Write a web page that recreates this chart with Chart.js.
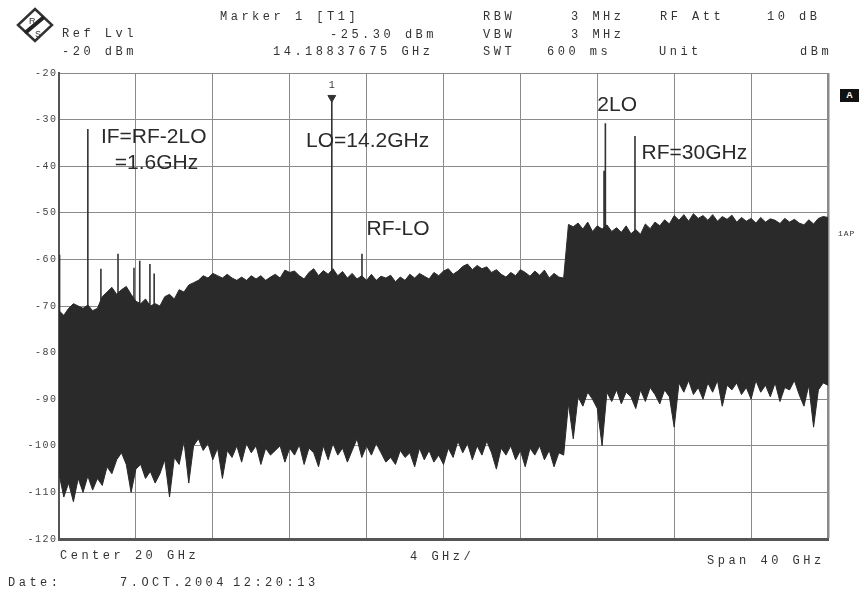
<!DOCTYPE html>
<html>
<head>
<meta charset="utf-8">
<script src="https://cdn.jsdelivr.net/npm/chart.js@4"></script>
<style>
html,body{margin:0;padding:0;background:#fff;}
#wrap{position:relative;width:859px;height:593px;overflow:hidden;font-family:"Liberation Mono","DejaVu Sans Mono",monospace;color:#333;}
#wrap canvas{position:absolute;left:0;top:0;}
.t{position:absolute;font-size:12px;line-height:12px;letter-spacing:3.5px;white-space:pre;}
#flagA{position:absolute;left:840px;top:89px;width:19px;height:13px;background:#111;color:#fff;font:bold 9px "Liberation Sans",sans-serif;text-align:center;line-height:13px;}
#logo{position:absolute;left:16px;top:7px;}
</style>
</head>
<body>
<div id="wrap">
  <canvas id="sa" width="859" height="593"></canvas>
  <svg id="logo" width="38" height="36" viewBox="0 0 38 36">
    <polygon points="19,2 36,18 19,34 2,18" fill="#fff" stroke="#333" stroke-width="2.5"/>
    <line x1="9" y1="26" x2="28" y2="10" stroke="#222" stroke-width="4"/>
    <text x="13" y="17" font-family="Liberation Sans" font-size="9" fill="#333">R</text>
    <text x="19" y="30" font-family="Liberation Sans" font-size="9" fill="#333">S</text>
  </svg>
  <div class="t" style="left:220px;top:11px">Marker 1 [T1]</div>
  <div class="t" style="left:62px;top:28px">Ref Lvl</div>
  <div class="t" style="left:330px;top:29px">-25.30 dBm</div>
  <div class="t" style="left:62px;top:46px">-20 dBm</div>
  <div class="t" style="left:273px;top:46px">14.18837675 GHz</div>
  <div class="t" style="left:483px;top:11px">RBW</div>
  <div class="t" style="left:571px;top:11px">3 MHz</div>
  <div class="t" style="left:660px;top:11px">RF Att</div>
  <div class="t" style="left:767px;top:11px">10 dB</div>
  <div class="t" style="left:483px;top:29px">VBW</div>
  <div class="t" style="left:571px;top:29px">3 MHz</div>
  <div class="t" style="left:483px;top:46px">SWT</div>
  <div class="t" style="left:547px;top:46px">600 ms</div>
  <div class="t" style="left:659px;top:46px">Unit</div>
  <div class="t" style="left:800px;top:46px">dBm</div>
  <div class="t" style="left:60px;top:550px">Center 20 GHz</div>
  <div class="t" style="left:410px;top:551px">4 GHz/</div>
  <div class="t" style="left:707px;top:555px">Span 40 GHz</div>
  <div class="t" style="left:8px;top:577px">Date:</div>
  <div class="t" style="left:120px;top:577px">7.OCT.2004</div>
  <div class="t" style="left:233px;top:577px">12:20:13</div>
  <div id="flagA">A</div>
  <div class="t" style="left:838px;top:228px;font-size:8px;letter-spacing:1px">1AP</div>
</div>
<script>
/* ---- axis ---- */
const spanGHz = [0, 40];
const yTicks = [-20, -30, -40, -50, -60, -70, -80, -90, -100, -110, -120];
const binGHz = 0.25; // sweep bin width of the noise trace

/* ---- noise trace, upper / lower envelope (dBm), one row per GHz ---- */
const noiseTop = [-71,
  -72,-70.5,-69.5,-70,   -70.5,-69.8,-71,-70.5,   -68,-67,-66,-67.5,   -66.5,-65.8,-67.5,-69,
  -69.5,-68.5,-70,-69.5, -70,-68,-67.5,-68.5,     -66.5,-67,-65.5,-65, -64.5,-63.5,-64,-63,
  -63.5,-64,-63.2,-64,   -64.5,-63.8,-64.5,-63.5, -64.2,-63.5,-64.5,-63.8, -63.2,-64,-62.3,-62.8,
  -62.5,-63.5,-64.2,-62.8, -62,-63.5,-62.4,-63.2, -62,-63.5,-62.6,-64, -63,-64.2,-63.5,-64.5,
  -63.2,-64.5,-63.6,-64, -63.4,-64.8,-63.8,-64.5, -63.2,-64,-63,-63.6, -64.2,-62.8,-63.5,-62.5,
  -62,-63.2,-62.5,-61.5, -61,-62.2,-61.3,-62,     -61.6,-62.8,-62.2,-63.2, -63.8,-62.8,-63.5,-62.2,
  -62.8,-63.6,-62.5,-63.4, -62.3,-64,-63,-63.8,   -64,-52.5,-53,-52.2,  -53.5,-52,-54,-52.8,
  -53.5,-52.6,-54,-53.2, -54.2,-52.8,-54.5,-53.6, -54.6,-52.4,-53.4,-52, -52.8,-51.5,-52.4,-50.6,
  -51.6,-50.4,-51.8,-50.2, -51.2,-50.6,-51.6,-50.4, -51.8,-50.8,-51.4,-50.5, -52,-51,-51.8,-51.2,
  -52.2,-51,-52,-51.3,   -51.6,-52.3,-51.2,-52,   -51.4,-52.2,-52.6,-51.5, -52.4,-51.2,-50.8,-51
];
const noiseBottom = [-106,
  -111,-108,-112,-107,   -110,-106.5,-109.5,-107, -108.5,-104.5,-106,-103, -101.5,-104,-110,-105,
  -104,-107,-105.5,-108, -106,-103,-111,-102.5,  -104,-99,-108,-100,     -98.5,-101,-99.5,-103,
  -100.5,-107,-101,-102.5, -100,-103.5,-99.5,-101.5, -100,-104,-100.5,-102, -101,-100,-103.5,-100.5,
  -102,-99.8,-104,-100.5, -101.5,-104.5,-100,-103, -99.5,-102,-100.5,-103.5, -101,-98.5,-102.5,-100,
  -102,-99.5,-101.5,-103.5, -102.5,-104,-101,-102.5, -101.5,-104.5,-100.5,-103, -101,-103.5,-102,-104,
  -100.5,-102.5,-99,-101.5, -99.5,-103,-100,-102, -99,-101.5,-105,-100.5, -102,-100,-103,-101,
  -104.5,-100.5,-102,-100, -103,-101,-104.5,-101.5, -102,-91,-98.5,-89.5, -91.5,-88.5,-90,-92,
  -100,-88.5,-90.5,-88,  -91,-88.5,-89.5,-92,     -88,-90.5,-87.5,-89,    -91,-88,-89.5,-96,
  -86.5,-88.5,-86,-89,   -87.5,-90,-86.5,-88.5,   -86,-91.5,-87,-88,      -86.5,-89,-87.5,-90,
  -86,-88.5,-87,-89.5,   -86.5,-90.5,-87.5,-88,   -86,-89,-91.5,-87,      -96,-88,-86.5,-87
];

/* ---- discrete spurs: frequency (GHz), peak (dBm) ---- */
const spurFreq = [0.03, 1.5, 2.18, 3.07, 3.9, 4.2, 4.73, 4.95, 14.19, 15.76, 28.35, 28.42, 29.96];
const spurPeak = [-59, -32, -62, -58.8, -61.8, -60.3, -61, -63, -25.3, -58.8, -41, -30.8, -33.5];
const spurBase = -75;

/* ---- marker 1 ---- */
const markerFreq = 14.19, markerLevel = -25.3;

/* ---- hand-written labels on the screen ---- */
const annoText  = ["IF=RF-2LO", "=1.6GHz", "LO=14.2GHz", "RF-LO", "2LO", "RF=30GHz"];
const annoFreq  = [2.18, 2.9, 12.85, 16.0, 28.0, 30.3];
const annoLevel = [-33.7, -39.3, -34.6, -53.6, -26.9, -37.3];

const ink = '#2a2a2a';
const toPts = arr => arr.map((v, i) => ({x: i * binGHz, y: v}));
const spurPts = [];
spurFreq.forEach((f, i) => { spurPts.push({x: f, y: spurBase}, {x: f, y: spurPeak[i]}, {x: f, y: null}); });

const overlay = {
  id: 'overlay',
  afterDatasetsDraw(chart) {
    const {ctx, scales: {x, y}} = chart;
    ctx.save();
    // y tick labels, spaced characters like the analyzer font
    ctx.font = '10px "Liberation Mono"';
    ctx.fillStyle = '#444';
    ctx.textBaseline = 'middle';
    ctx.textAlign = 'left';
    yTicks.forEach(v => {
      const s = String(v);
      let px = x.left - 3;
      for (let i = s.length - 1; i >= 0; i--) {
        px -= ctx.measureText(s[i]).width;
        ctx.fillText(s[i], px, y.getPixelForValue(v));
        px -= 1.5;
      }
    });
    // marker number
    ctx.fillStyle = '#333';
    ctx.textAlign = 'center';
    ctx.fillText('1', x.getPixelForValue(markerFreq), y.getPixelForValue(markerLevel) - 12);
    // labels
    ctx.font = '21px "Liberation Sans"';
    ctx.fillStyle = '#2a2a2a';
    ctx.textAlign = 'left';
    annoText.forEach((t, i) => ctx.fillText(t, x.getPixelForValue(annoFreq[i]), y.getPixelForValue(annoLevel[i])));
    ctx.restore();
  }
};

new Chart(document.getElementById('sa'), {
  type: 'line',
  data: {
    datasets: [
      {data: spurPts, borderColor: '#333', borderWidth: 1.6, pointRadius: 0, fill: false, spanGaps: false, order: 4},
      {data: toPts(noiseTop), borderColor: ink, backgroundColor: ink, borderWidth: 1, pointRadius: 0, fill: '+1', order: 3},
      {data: toPts(noiseBottom), borderColor: ink, borderWidth: 1, pointRadius: 0, fill: false, order: 3},
      {type: 'scatter', data: [{x: markerFreq, y: markerLevel}], pointStyle: 'triangle', rotation: 180,
       pointRadius: 4.5, backgroundColor: '#333', borderColor: '#333', order: 1}
    ]
  },
  options: {
    responsive: false,
    devicePixelRatio: 1,
    animation: false,
    layout: {padding: {left: 59, right: 31, top: 73, bottom: 54}},
    plugins: {legend: {display: false}, tooltip: {enabled: false}},
    elements: {line: {tension: 0}},
    scales: {
      x: {
        type: 'linear', min: spanGHz[0], max: spanGHz[1],
        ticks: {display: false, stepSize: 4},
        grid: {color: '#8a8a8a', lineWidth: c => c.tick && c.tick.value === spanGHz[1] ? 2.5 : 1, drawTicks: false},
        border: {display: true, color: '#555', width: 3}
      },
      y: {
        min: yTicks[yTicks.length - 1], max: yTicks[0],
        ticks: {display: false, stepSize: 10},
        grid: {color: '#8a8a8a', lineWidth: 1, drawTicks: false},
        border: {display: true, color: '#555', width: 2}
      }
    }
  },
  plugins: [overlay]
});
</script>
</body>
</html>
